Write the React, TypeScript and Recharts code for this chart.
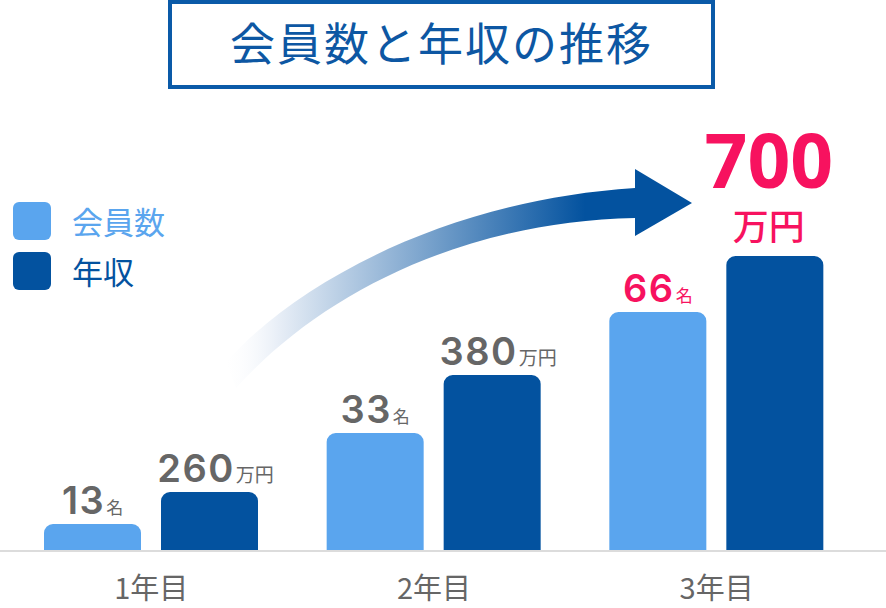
import { BarChart, Bar, XAxis, YAxis, Legend, LabelList } from "recharts";

const years = ["1年目", "2年目", "3年目"];
const memberCounts = [13, 33, 66];
const incomes = [260, 380, 700];
// drawn bar heights (the original is illustrative, not to scale)
const memberBarHeights = [27, 118, 239];
const incomeBarHeights = [59, 176, 295];

const data = years.map((year, i) => ({
  year,
  members: memberCounts[i],
  income: incomes[i],
  memberBar: memberBarHeights[i],
  incomeBar: incomeBarHeights[i],
}));

const LIGHT = "#5aa5ee";
const DARK = "#03529f";
const PINK = "#f7125f";
const GRAY = "#666666";
const JP = "'Noto Sans CJK JP', sans-serif";
const NUM = "Inter, sans-serif";

function makeLabel(suffix: string) {
  return (props: any) => {
    const vb = props.viewBox ?? props;
    const x = (vb.x ?? props.x) + (vb.width ?? props.width) / 2;
    const top = vb.y ?? props.y;
    const last = props.index === data.length - 1;
    const color = last ? PINK : GRAY;
    if (last && suffix === "万円") {
      // headline value: big number with the unit on its own line
      return (
        <text textAnchor="middle" fill={PINK}>
          <tspan x={x - 6} y={top - 68} fontSize={75} fontWeight={700} fontFamily="'Open Sans', sans-serif">
            {props.value}
          </tspan>
          <tspan x={x - 6} y={top - 16} fontSize={36} fontWeight={500} fontFamily={JP}>
            {suffix}
          </tspan>
        </text>
      );
    }
    return (
      <text x={x + (suffix === "万円" ? 6 : 0)} y={top - 10} textAnchor="middle" fill={color}>
        <tspan fontSize={38} fontWeight={600} fontFamily={NUM} letterSpacing={1.5}>{props.value}</tspan>
        <tspan fontSize={suffix === "万円" ? 19 : 17} fontFamily={JP} dx={1}>{suffix}</tspan>
      </text>
    );
  };
}

function YearTick({ x, y, payload }: any) {
  return (
    <text x={x} y={y + 48} textAnchor="middle" fill={GRAY} fontSize={29} fontFamily={JP}>
      {payload.value}
    </text>
  );
}

function LegendBox({ payload }: any) {
  return (
    <div style={{ display: "flex", flexDirection: "column", gap: 11 }}>
      {(payload ?? []).map((p: any) => (
        <div key={p.value} style={{ display: "flex", alignItems: "center", height: 39 }}>
          <span style={{ width: 38, height: 38, borderRadius: 6, background: p.color, display: "inline-block" }} />
          <span style={{ marginLeft: 21, fontSize: 31, fontFamily: JP, color: p.color, lineHeight: "39px" }}>{p.value}</span>
        </div>
      ))}
    </div>
  );
}

function GrowthArrow() {
  return (
    <svg width={886} height={608} style={{ position: "absolute", left: 0, top: 0, pointerEvents: "none" }}>
      <defs>
        <linearGradient id="arrowFade" gradientUnits="userSpaceOnUse" x1={222} y1={0} x2={585} y2={0}>
          <stop offset="0" stopColor="#ffffff" stopOpacity={0} />
          <stop offset="0.15" stopColor="#e9eff7" stopOpacity={1} />
          <stop offset="1" stopColor={DARK} stopOpacity={1} />
        </linearGradient>
      </defs>
      <path
        d="M226,362 C300,280 450,200 635,188 L635,169 L692,203 L635,236 L635,218 C460,222 320,295 236,388 Z"
        fill="url(#arrowFade)"
      />
    </svg>
  );
}

export default function App() {
  return (
    <div style={{ position: "absolute", left: 0, top: 0, width: 886, height: 608, background: "#fff" }}>
      <div
        style={{
          position: "absolute",
          left: 168,
          top: 0,
          width: 547,
          height: 89,
          boxSizing: "border-box",
          border: "4px solid #0a5aa8",
          display: "flex",
          alignItems: "center",
          justifyContent: "center",
          paddingBottom: 6,
          color: "#0d57a3",
          fontFamily: JP,
          fontWeight: 400,
          fontSize: 45,
          letterSpacing: 2,
        }}
      >
        会員数と年収の推移
      </div>
      <BarChart width={886} height={608} data={data} margin={{ top: 151, right: 0, bottom: 0, left: 0 }} barGap={20}>
        <XAxis
          dataKey="year"
          height={57}
          padding={{ left: 10, right: 28 }}
          axisLine={{ stroke: "#dcdcdc", strokeWidth: 2 }}
          tickLine={false}
          tickSize={0}
          tickMargin={0}
          tick={<YearTick />}
        />
        <YAxis hide domain={[0, 400]} />
        <Legend
          layout="horizontal"
          verticalAlign="middle"
          align="center"
          content={<LegendBox />}
          wrapperStyle={{ left: 13, top: 201, width: "auto", height: "auto" }}
        />
        <Bar dataKey="memberBar" name="会員数" fill={LIGHT} barSize={97} radius={[9, 9, 0, 0]} isAnimationActive={false}>
          <LabelList dataKey="members" content={makeLabel("名")} />
        </Bar>
        <Bar dataKey="incomeBar" name="年収" fill={DARK} barSize={97} radius={[9, 9, 0, 0]} isAnimationActive={false}>
          <LabelList dataKey="income" content={makeLabel("万円")} />
        </Bar>
      </BarChart>
      <GrowthArrow />
    </div>
  );
}
